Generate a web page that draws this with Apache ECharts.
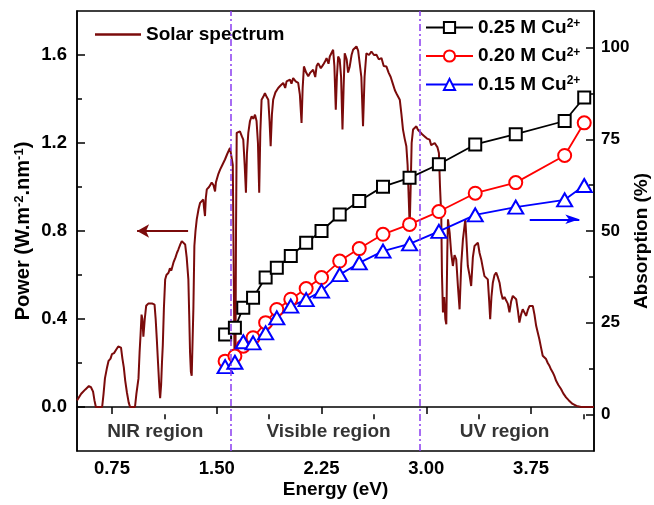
<!DOCTYPE html>
<html><head><meta charset="utf-8">
<script src="https://cdn.jsdelivr.net/npm/echarts@6/dist/echarts.min.js"></script>
<style>html,body{margin:0;padding:0;background:#fff}#c{width:654px;height:505px}</style>
</head><body><div id="c"></div>
<script>
// Solar spectrum (energy eV, power W.m-2.nm-1)
const solarE = [0.50,0.53,0.56,0.585,0.60,0.615,0.625,0.635,0.66,0.68,0.69,0.70,0.715,0.726,0.74,0.75,0.765,0.78,0.795,0.805,0.815,0.825,0.835,0.845,0.857,0.87,0.88,0.90,0.915,0.925,0.94,0.948,0.955,0.962,0.968,0.975,0.985,0.995,1.01,1.024,1.04,1.055,1.063,1.071,1.08,1.09,1.095,1.102,1.108,1.114,1.122,1.131,1.14,1.155,1.165,1.175,1.19,1.205,1.215,1.226,1.24,1.25,1.262,1.274,1.285,1.297,1.303,1.309,1.315,1.321,1.327,1.333,1.34,1.348,1.357,1.37,1.381,1.392,1.404,1.41,1.416,1.422,1.429,1.445,1.464,1.476,1.488,1.494,1.50,1.512,1.524,1.54,1.559,1.575,1.595,1.605,1.615,1.622,1.628,1.634,1.638,1.643,1.655,1.666,1.68,1.69,1.70,1.709,1.716,1.726,1.738,1.75,1.762,1.774,1.785,1.795,1.804,1.812,1.821,1.833,1.845,1.857,1.869,1.878,1.886,1.895,1.904,1.92,1.94,1.955,1.976,1.99,2.00,2.024,2.035,2.047,2.065,2.083,2.095,2.107,2.115,2.124,2.14,2.155,2.17,2.19,2.205,2.215,2.226,2.245,2.262,2.275,2.286,2.30,2.309,2.322,2.333,2.342,2.352,2.36,2.369,2.38,2.39,2.40,2.408,2.416,2.43,2.44,2.452,2.465,2.476,2.488,2.50,2.512,2.524,2.535,2.547,2.558,2.571,2.59,2.607,2.625,2.643,2.66,2.679,2.695,2.714,2.73,2.745,2.76,2.775,2.79,2.81,2.822,2.833,2.845,2.857,2.866,2.874,2.881,2.888,2.895,2.905,2.917,2.929,2.94,2.952,2.97,2.988,3.005,3.024,3.035,3.047,3.06,3.071,3.08,3.09,3.098,3.107,3.112,3.119,3.128,3.136,3.143,3.15,3.155,3.167,3.178,3.19,3.202,3.214,3.226,3.238,3.25,3.262,3.279,3.288,3.297,3.309,3.321,3.333,3.345,3.357,3.369,3.381,3.393,3.405,3.416,3.428,3.44,3.45,3.457,3.466,3.476,3.488,3.50,3.512,3.524,3.535,3.547,3.559,3.571,3.583,3.595,3.607,3.619,3.631,3.643,3.655,3.666,3.678,3.69,3.702,3.714,3.726,3.738,3.75,3.762,3.774,3.786,3.797,3.809,3.821,3.833,3.845,3.857,3.869,3.881,3.893,3.905,3.917,3.929,3.945,3.964,3.98,4.00,4.02,4.047,4.075,4.107,4.15,4.20];
const solarP = [0.03,0.06,0.08,0.095,0.09,0.07,0.03,0.0,0.0,0.0,0.06,0.13,0.18,0.21,0.22,0.24,0.245,0.26,0.275,0.28,0.27,0.22,0.18,0.12,0.067,0.02,0.0,0.0,0.0,0.06,0.13,0.25,0.33,0.42,0.40,0.32,0.40,0.46,0.47,0.475,0.47,0.465,0.40,0.31,0.20,0.08,0.04,0.10,0.20,0.28,0.45,0.58,0.60,0.61,0.63,0.62,0.656,0.68,0.70,0.717,0.74,0.754,0.75,0.739,0.68,0.58,0.42,0.248,0.16,0.142,0.15,0.45,0.732,0.80,0.853,0.90,0.928,0.935,0.943,0.90,0.868,0.95,0.989,1.00,1.02,1.01,0.98,1.02,1.034,1.06,1.079,1.10,1.125,1.15,1.178,1.17,1.10,0.60,0.17,0.19,0.80,1.246,1.25,1.253,1.23,1.215,1.10,0.974,1.15,1.246,1.30,1.321,1.31,1.329,1.30,1.20,0.974,1.25,1.397,1.41,1.427,1.41,1.397,1.30,1.185,1.33,1.397,1.43,1.45,1.46,1.473,1.45,1.48,1.488,1.47,1.495,1.48,1.473,1.42,1.291,1.45,1.548,1.52,1.503,1.52,1.533,1.50,1.55,1.563,1.54,1.556,1.57,1.586,1.56,1.593,1.60,1.624,1.55,1.351,1.50,1.593,1.58,1.50,1.261,1.45,1.608,1.58,1.52,1.548,1.60,1.624,1.63,1.639,1.62,1.624,1.50,1.276,1.50,1.608,1.60,1.616,1.60,1.601,1.58,1.586,1.55,1.548,1.52,1.50,1.47,1.44,1.42,1.397,1.33,1.261,1.22,1.185,1.10,0.95,0.82,1.00,1.20,1.261,1.27,1.276,1.26,1.261,1.24,1.23,1.22,1.215,1.19,1.185,1.20,1.20,1.18,1.155,1.00,0.868,0.60,0.43,0.50,0.40,0.376,0.70,0.853,0.792,0.70,0.641,0.69,0.671,0.55,0.444,0.65,0.762,0.853,0.75,0.641,0.60,0.55,0.68,0.732,0.74,0.747,0.70,0.671,0.63,0.595,0.59,0.58,0.48,0.399,0.50,0.565,0.60,0.611,0.59,0.565,0.52,0.49,0.50,0.505,0.47,0.43,0.48,0.505,0.50,0.49,0.44,0.384,0.42,0.444,0.43,0.414,0.44,0.459,0.455,0.459,0.42,0.369,0.34,0.308,0.27,0.233,0.225,0.218,0.20,0.187,0.17,0.157,0.14,0.119,0.10,0.082,0.062,0.044,0.03,0.014,0.005,0.0,0.0,0.0];

// Absorption (%) vs energy (eV)
const energy = [1.56,1.63,1.69,1.76,1.85,1.93,2.03,2.14,2.25,2.38,2.52,2.69,2.88,3.09,3.35,3.64,3.99,4.13];
const abs025 = [21.8,23.6,29.1,31.8,37.3,40.0,43.2,46.8,50.0,54.5,58.2,62.1,64.5,68.2,73.6,76.4,80.0,86.4];
const abs020 = [14.5,15.9,18.6,20.9,25.0,28.6,31.4,34.3,37.3,41.8,45.2,49.1,51.8,55.3,60.3,63.2,70.6,79.5];
const abs015 = [13.0,14.2,19.8,19.5,22.2,26.3,29.5,31.3,33.6,38.1,41.3,44.5,46.5,49.9,54.4,56.5,58.5,62.4];

// Axis ticks
const xMajor = [0.75,1.5,2.25,3.0,3.75];
const xMinor = [1.125,1.875,2.625,3.375,4.125];
const yLeftMajor = [0,0.4,0.8,1.2,1.6];
const yLeftMinor = [0.2,0.6,1.0,1.4];
const yRightMajor = [0,25,50,75,100];
const yRightMinor = [12.5,37.5,62.5,87.5];

// Annotations
const regionBounds = [1.6, 2.95];
const regionNames = ['NIR region','Visible region','UV region'];
const regionE = [1.06, 2.30, 3.56];
const regionP = [-0.113, -0.113, -0.113];
const arrowPower = [[1.295,0.80],[0.93,0.80]];
const arrowAbs = [[3.74,53.2],[4.095,53.2]];

const FONT = 'Arial, "Liberation Sans", Helvetica, sans-serif';
const DARKRED = '#7b0b0b';
const zip = (a,b) => a.map((v,i)=>[v,b[i]]);

const chart = echarts.init(document.getElementById('c'), null, {renderer:'canvas'});
const tickLabel = {color:'#000', fontFamily:FONT, fontWeight:'bold', fontSize:18.5};
const supRich = {
  t:{fontFamily:FONT, fontWeight:'bold', fontSize:19, color:'#000'},
  s:{fontFamily:FONT, fontWeight:'bold', fontSize:12, color:'#000', verticalAlign:'top'}
};
const supRichBig = {
  t:{fontFamily:FONT, fontWeight:'bold', fontSize:20, color:'#000'},
  s:{fontFamily:FONT, fontWeight:'bold', fontSize:13, color:'#000', verticalAlign:'top'}
};

const option = {
  animation:false,
  backgroundColor:'#fff',
  grid:{left:77, right:60, top:11, bottom:54, show:true, borderColor:'#000', borderWidth:1.5, outerBoundsMode:'none'},
  legend:[
    {data:[{name:'Solar spectrum', icon:'rect'}], left:90, top:20, itemWidth:46, itemHeight:2.5,
     itemStyle:{color:DARKRED},
     textStyle:{fontFamily:FONT, fontWeight:'bold', fontSize:19, color:'#000'}},
    {data:['0.25 M Cu2+','0.20 M Cu2+','0.15 M Cu2+'], orient:'vertical', left:420, top:13,
     itemWidth:47, itemHeight:14, itemGap:9.5,
     formatter: n => '{t|' + n.slice(0,-2) + '}{s|2+}',
     textStyle:{fontFamily:FONT, fontWeight:'bold', fontSize:19, color:'#000', rich:supRich}}
  ],
  xAxis:[
    {type:'value', min:0.5, max:4.2, position:'bottom',
     name:'Energy (eV)', nameLocation:'middle', nameGap:29, nameMoveOverlap:false,
     nameTextStyle:{fontFamily:FONT, fontWeight:'bold', fontSize:19, color:'#000'},
     axisLine:{show:true, lineStyle:{color:'#000', width:1.5}},
     axisTick:{show:true, inside:false, length:7, lineStyle:{color:'#000', width:1.5}, customValues:xMajor},
     axisLabel:{...tickLabel, margin:8, customValues:xMajor, formatter:v=>v.toFixed(2)},
     splitLine:{show:false}},
    {type:'value', min:0.5, max:4.2, position:'bottom',
     axisLine:{show:false},
     axisTick:{show:true, inside:false, length:5, lineStyle:{color:'#000', width:1.5}, customValues:xMinor},
     axisLabel:{show:false}, splitLine:{show:false}}
  ],
  yAxis:[
    {type:'value', min:-0.2, max:1.8, position:'left',
     name:'Power (W.m{s|-2}.nm{s|-1})', nameLocation:'middle', nameGap:44, nameRotate:90, nameMoveOverlap:false,
     nameTextStyle:{fontFamily:FONT, fontWeight:'bold', fontSize:20, color:'#000', rich:supRichBig},
     axisLine:{show:true, lineStyle:{color:'#000', width:1.5}},
     axisTick:{show:true, inside:true, length:8, lineStyle:{color:'#000', width:1.5}, customValues:yLeftMajor},
     axisLabel:{...tickLabel, margin:10, customValues:yLeftMajor, formatter:v=>v.toFixed(1)},
     splitLine:{show:false}},
    {type:'value', min:-10, max:110, position:'right',
     name:'Absorption (%)', nameLocation:'middle', nameGap:38, nameRotate:90, nameMoveOverlap:false,
     nameTextStyle:{fontFamily:FONT, fontWeight:'bold', fontSize:19, color:'#000', padding:[0,20,0,0]},
     axisLine:{show:true, lineStyle:{color:'#000', width:1.5}},
     axisTick:{show:true, inside:true, length:8, lineStyle:{color:'#000', width:1.5}, customValues:yRightMajor},
     axisLabel:{...tickLabel, fontSize:17, margin:7, customValues:yRightMajor, formatter:v=>String(v)},
     splitLine:{show:false}},
    {type:'value', min:-0.2, max:1.8, position:'left',
     axisLine:{show:false},
     axisTick:{show:true, inside:true, length:5, lineStyle:{color:'#000', width:1.5}, customValues:yLeftMinor},
     axisLabel:{show:false}, splitLine:{show:false}},
    {type:'value', min:-10, max:110, position:'right',
     axisLine:{show:false},
     axisTick:{show:true, inside:true, length:5, lineStyle:{color:'#000', width:1.5}, customValues:yRightMinor},
     axisLabel:{show:false}, splitLine:{show:false}}
  ],
  series:[
    {name:'Solar spectrum', type:'line', xAxisIndex:0, yAxisIndex:0, data:zip(solarE, solarP),
     showSymbol:false, symbol:'none', color:DARKRED, lineStyle:{color:DARKRED, width:2}, z:2,
     markLine:{silent:true, symbol:['none','arrow'], symbolSize:[10,12], label:{show:false},
       lineStyle:{color:DARKRED, width:2, type:'solid'},
       data:[[{coord:arrowPower[0]},{coord:arrowPower[1]}]]}},
    {name:'0.25 M Cu2+', type:'line', xAxisIndex:0, yAxisIndex:1, data:zip(energy, abs025),
     symbol:'emptyRect', symbolSize:12, color:'#000',
     lineStyle:{color:'#000', width:1.8}, itemStyle:{color:'#000', borderColor:'#000', borderWidth:1.8}, z:4},
    {name:'0.20 M Cu2+', type:'line', xAxisIndex:0, yAxisIndex:1, data:zip(energy, abs020),
     symbol:'emptyCircle', symbolSize:13, color:'#ff0000',
     lineStyle:{color:'#ff0000', width:1.8}, itemStyle:{color:'#ff0000', borderColor:'#ff0000', borderWidth:1.8}, z:4},
    {name:'0.15 M Cu2+', type:'line', xAxisIndex:0, yAxisIndex:1, data:zip(energy, abs015),
     symbol:'emptyTriangle', symbolSize:[15,13], color:'#0000ff',
     lineStyle:{color:'#0000ff', width:1.8}, itemStyle:{color:'#0000ff', borderColor:'#0000ff', borderWidth:1.8}, z:4,
     markLine:{silent:true, symbol:['none','arrow'], symbolSize:[7,14], label:{show:false},
       lineStyle:{color:'#0000ff', width:1.8, type:'solid'},
       data:[[{coord:arrowAbs[0]},{coord:arrowAbs[1]}]]}},
    {name:'regions', type:'scatter', xAxisIndex:0, yAxisIndex:0, symbolSize:0, silent:true, z:5,
     data: regionNames.map((n,i)=>[regionE[i], regionP[i], n]),
     label:{show:true, position:'inside', formatter:p=>p.data[2], fontFamily:FONT, fontWeight:'bold', fontSize:19, color:'#000'},
     markLine:{silent:true, symbol:'none', label:{show:false},
       lineStyle:{color:'#8a3cf0', width:1.5, type:[7,3,2,3]},
       data: regionBounds.map(v=>({xAxis:v}))}}
  ]
};
chart.setOption(option);
</script></body></html>
